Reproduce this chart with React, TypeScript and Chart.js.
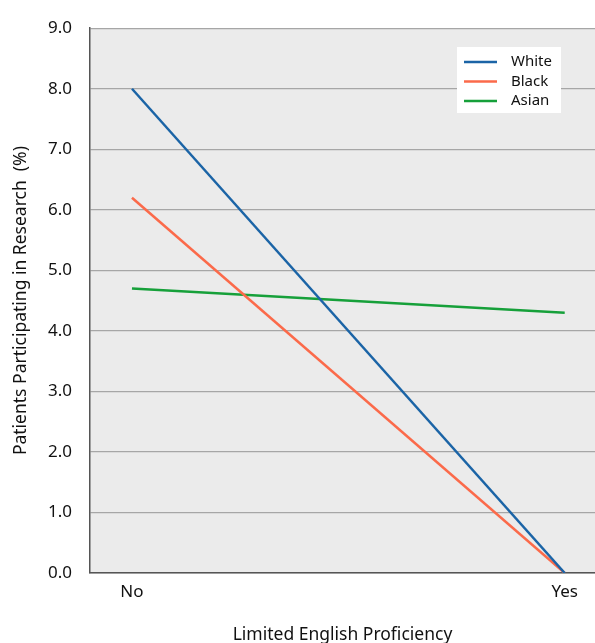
import React, { useEffect, useRef } from "react";
import { Chart, registerables } from "chart.js";

Chart.register(...registerables);

const categories = ["No", "Yes"];
const whiteValues = [8.0, 0.0];
const blackValues = [6.2, 0.0];
const asianValues = [4.7, 4.3];
const seriesNames = ["White", "Black", "Asian"];
const seriesColors = ["#1b64a6", "#fb6a4a", "#16a03a"];
const yTicks = [0, 1, 2, 3, 4, 5, 6, 7, 8, 9];

const FONT = "'Noto Sans', 'Open Sans', sans-serif";

const bgPlugin = {
  id: "plotBg",
  beforeDraw(chart: any) {
    const { ctx, chartArea: a } = chart;
    ctx.save();
    ctx.fillStyle = "#ebebeb";
    ctx.fillRect(a.left, a.top, a.right - a.left, a.bottom - a.top);
    ctx.restore();
  },
};

const legendPlugin = {
  id: "boxLegend",
  afterDraw(chart: any) {
    const { ctx } = chart;
    ctx.save();
    const x0 = 457, y0 = 47, w = 104, h = 66;
    ctx.fillStyle = "#ffffff";
    ctx.fillRect(x0, y0, w, h);
    chart.data.datasets.forEach((ds: any, i: number) => {
      const y = 62 + i * 19.5;
      ctx.strokeStyle = ds.borderColor;
      ctx.lineWidth = 2.5;
      ctx.beginPath();
      ctx.moveTo(464, y);
      ctx.lineTo(497, y);
      ctx.stroke();
      ctx.fillStyle = "#111";
      ctx.font = `15px ${FONT}`;
      ctx.textBaseline = "middle";
      ctx.textAlign = "left";
      ctx.fillText(ds.label, 511, y);
    });
    ctx.restore();
  },
};

export default function App() {
  const ref = useRef<HTMLCanvasElement>(null);
  useEffect(() => {
    document.body.style.margin = "0";
    const values = [whiteValues, blackValues, asianValues];
    const chart = new Chart(ref.current!, {
      type: "line",
      data: {
        datasets: seriesNames.map((name, i) => ({
          label: name,
          data: values[i].map((v, j) => ({ x: j, y: v })),
          borderColor: seriesColors[i],
          backgroundColor: seriesColors[i],
          borderWidth: 2.5,
          pointRadius: 0,
          fill: false,
          tension: 0,
        })),
      },
      options: {
        animation: false,
        responsive: false,
        layout: { padding: { top: 25, left: 0, right: 0, bottom: 0 } },
        plugins: { legend: { display: false }, tooltip: { enabled: false } },
        scales: {
          x: {
            type: "linear",
            min: -0.097,
            max: 1.07,
            afterBuildTicks: (s: any) => {
              s.ticks = categories.map((_, i) => ({ value: i }));
            },
            afterFit: (s: any) => {
              s.height = 70;
            },
            ticks: {
              callback: (v: any) => categories[v] ?? "",
              color: "#111",
              font: { family: FONT, size: 17 },
              padding: 9,
              maxRotation: 0,
            },
            grid: { display: false, drawTicks: false },
            border: { display: true, color: "#555", width: 1.5 },
            title: {
              display: true,
              text: "Limited English Proficiency",
              color: "#111",
              font: { family: FONT, size: 17.5 },
              padding: { top: 0, bottom: -3 },
            },
          },
          y: {
            min: 0,
            max: 9,
            afterBuildTicks: (s: any) => {
              s.ticks = yTicks.map((v) => ({ value: v }));
            },
            afterFit: (s: any) => {
              s.width = 90;
            },
            ticks: {
              callback: (v: any) => Number(v).toFixed(1),
              color: "#111",
              font: { family: FONT, size: 17 },
              padding: 18,
            },
            grid: { color: "#a6a6a6", lineWidth: 1.2, drawTicks: false },
            border: { display: true, color: "#555", width: 1.5 },
            title: {
              display: true,
              text: "Patients Participating in Research  (%)",
              color: "#111",
              font: { family: FONT, size: 17.5 },
              padding: { top: 11, bottom: 0 },
            },
          },
        },
      },
      plugins: [bgPlugin, legendPlugin],
    });
    return () => chart.destroy();
  }, []);
  return (
    <div style={{ position: "absolute", left: 0, top: 0, width: 595, height: 643 }}>
      <canvas ref={ref} width={595} height={643} style={{ width: 595, height: 643 }} />
    </div>
  );
}
